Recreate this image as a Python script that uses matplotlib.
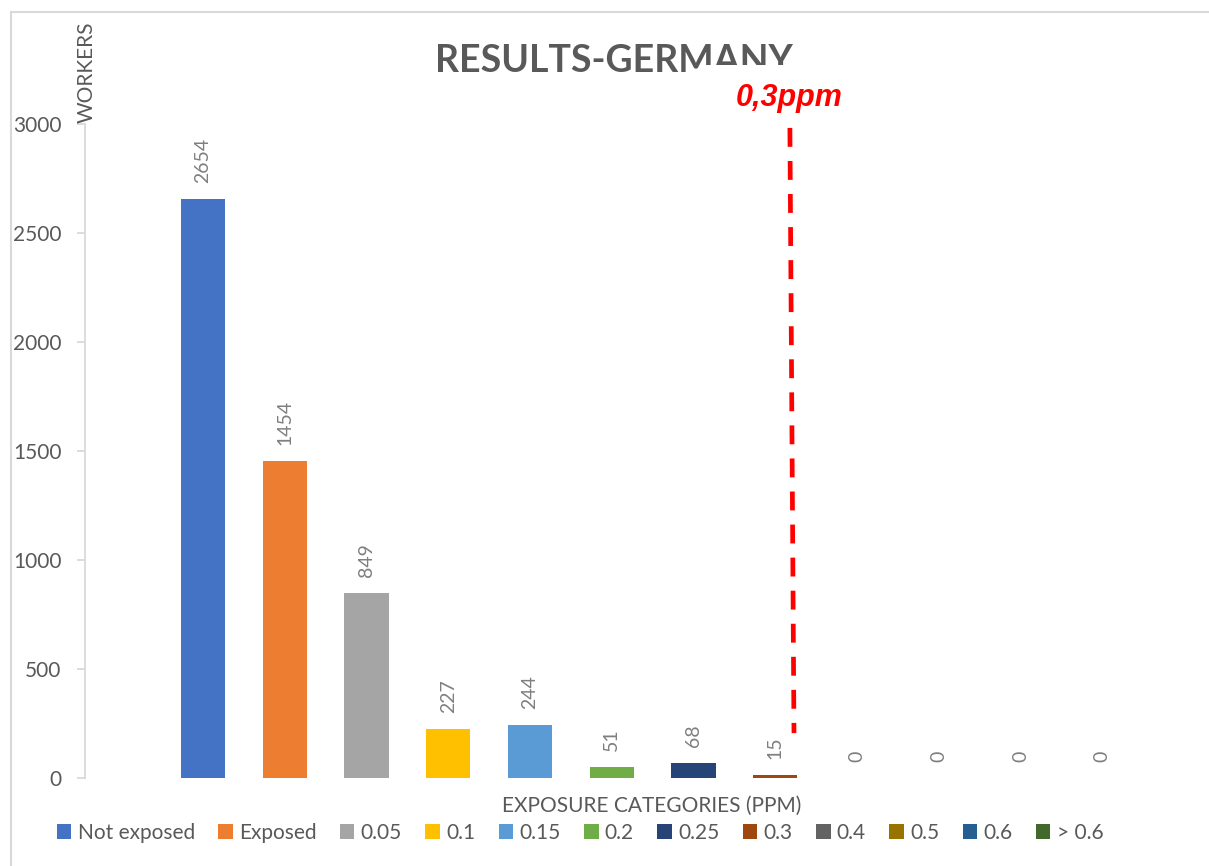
import numpy as np
import matplotlib
matplotlib.use('Agg')
import matplotlib.pyplot as plt
from matplotlib.patches import Rectangle, Patch
from matplotlib.lines import Line2D

plt.rcParams['font.family'] = ['Lato', 'DejaVu Sans']

# ---------------------------------------------------------------------------
# Data
# ---------------------------------------------------------------------------
CATEGORIES = ['Not exposed', 'Exposed', '0.05', '0.1', '0.15', '0.2',
              '0.25', '0.3', '0.4', '0.5', '0.6', '> 0.6']
WORKERS = [2654, 1454, 849, 227, 244, 51, 68, 15, 0, 0, 0, 0]
COLORS = ['#4472C4', '#ED7D31', '#A5A5A5', '#FFC000', '#5B9BD5', '#70AD47',
          '#264478', '#9E480E', '#636363', '#997300', '#255E91', '#43682B']
Y_TICKS = [0, 500, 1000, 1500, 2000, 2500, 3000]
LIMIT_POS = (8.18, 8.23)     # limit line position (0.3 ppm), slightly slanted
LIMIT_SPAN = (2982, 206)

TEXT_COLOR = '#595959'
LABEL_COLOR = '#7F7F7F'
AXIS_COLOR = '#D9D9D9'

W, H = 1209, 866
fig = plt.figure(figsize=(W / 100, H / 100), dpi=100)
fig.patch.set_facecolor('white')

# axes in pixel box: left 85, right 1143, top 124, bottom 778
ax = fig.add_axes([85 / W, 1 - 778 / H, (1143 - 85) / W, (778 - 124) / H])

x = np.arange(len(CATEGORIES)) + 1   # first slot left empty as in the original
bars = ax.bar(x, WORKERS, width=0.54, color=COLORS, zorder=2)

for xi, v in zip(x, WORKERS):
    ax.annotate(f'{v}', (xi, v), xytext=(0, 11.5), textcoords='offset points',
                rotation=90, ha='center', va='bottom', fontsize=14,
                color=LABEL_COLOR)

ax.plot(LIMIT_POS, LIMIT_SPAN, color='#FF0000', linewidth=3.4,
        dashes=(4, 3), solid_capstyle='butt', dash_capstyle='butt', zorder=3)

ax.set_xlim(-0.444, 12.5)
ax.set_ylim(0, 3000)
ax.set_yticks(Y_TICKS)
ax.set_yticklabels([str(t) for t in Y_TICKS])
ax.tick_params(axis='y', colors=AXIS_COLOR, labelcolor=TEXT_COLOR,
               labelsize=15, length=6, width=1.3, pad=11)
ax.set_xticks([])
for s in ['top', 'right', 'bottom']:
    ax.spines[s].set_visible(False)
ax.spines['left'].set_color(AXIS_COLOR)
ax.spines['left'].set_linewidth(1.3)

# Axis titles
fig.text(87 / W, 1 - 72 / H, 'WORKERS', rotation=90, ha='center', va='center',
         fontsize=15, color=TEXT_COLOR)
fig.text(652 / W, 1 - 806 / H, 'EXPOSURE CATEGORIES (PPM)', ha='center',
         va='center', fontsize=15, color=TEXT_COLOR)

# Title (partially hidden by the limit label's box)
fig.text(614 / W, 1 - 61 / H, 'RESULTS-GERMANY', ha='center', va='center',
         fontsize=27, fontweight='bold', color=TEXT_COLOR, zorder=3)
fig.add_artist(Rectangle((701 / W, 1 - 122 / H), 180 / W, 57 / H,
                         transform=fig.transFigure, facecolor='white',
                         edgecolor='none', zorder=4))
fig.text(789 / W, 1 - 98 / H, '0,3ppm', ha='center', va='center',
         fontsize=22, fontweight='bold', fontstyle='italic', color='#FF0000',
         family=['Liberation Sans', 'DejaVu Sans'], zorder=5)

# Legend
handles = [Patch(facecolor=c, edgecolor='none') for c in COLORS]
fig.legend(handles, CATEGORIES, loc='center', bbox_to_anchor=(580 / W, 1 - 833 / H),
           ncol=len(CATEGORIES), frameon=False, fontsize=15,
           handlelength=0.7, handleheight=0.7, handletextpad=0.3,
           columnspacing=1.12, labelcolor=TEXT_COLOR, borderpad=0)

# Chart area border (top and left edges)
fig.add_artist(Line2D([11 / W, 11 / W], [0, 1 - 12 / H], transform=fig.transFigure,
                      color=AXIS_COLOR, linewidth=1.5))
fig.add_artist(Line2D([11 / W, 1], [1 - 12 / H, 1 - 12 / H], transform=fig.transFigure,
                      color=AXIS_COLOR, linewidth=1.5))

fig.savefig('out.png', dpi=100, facecolor='white')
